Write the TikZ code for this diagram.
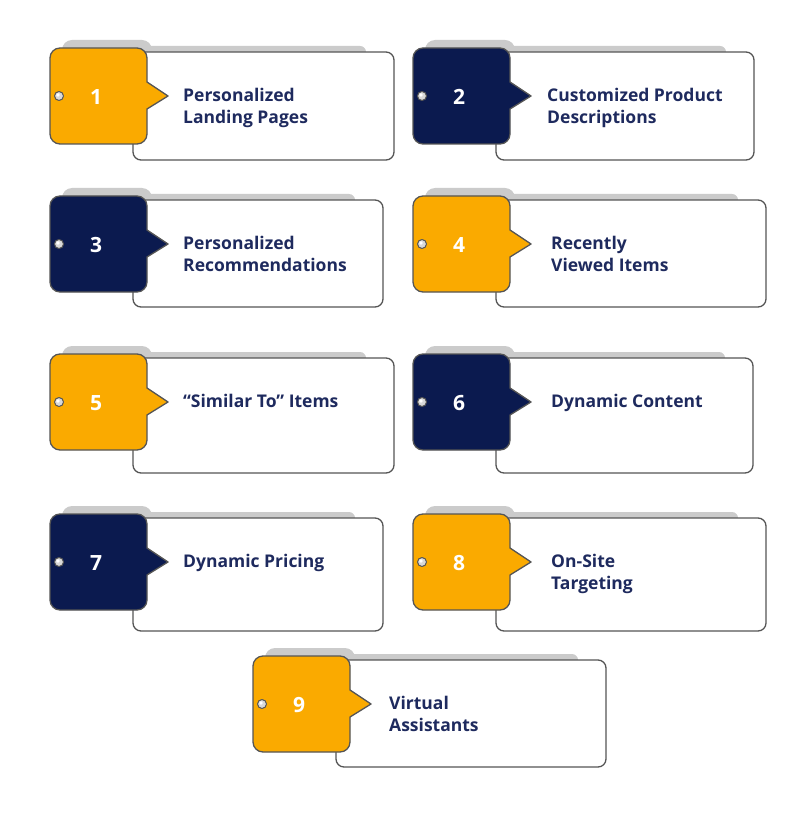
\documentclass[tikz,border=0pt]{standalone}
\usepackage{fontspec}
\setmainfont{Open Sans}
\definecolor{tagorange}{HTML}{FAAA00}
\definecolor{tagnavy}{HTML}{0B1A4F}
\definecolor{labelnavy}{HTML}{1E2A5E}
\definecolor{rimgray}{HTML}{555555}
\definecolor{shadegray}{HTML}{CBCBCB}
\begin{document}
\begin{tikzpicture}[x=1pt,y=-1pt,line join=round,
  shade/.style={fill=shadegray},
  cardbox/.style={draw=rimgray,line width=1.3pt,fill=white,rounded corners=8pt},
  tagbox/.style={draw=rimgray,line width=1.3pt},
  hole/.style={draw=rimgray,line width=1pt,fill=gray!30},
  numtext/.style={text=white,font=\fontsize{21}{24}\selectfont\bfseries,inner sep=0pt},
  cardtext/.style={text=labelnavy,font=\fontsize{17.5}{22}\selectfont\bfseries,align=left,inner sep=0pt,anchor=north west}]
  \useasboundingbox (0,0) rectangle (800,818);
  \foreach \L/\T/\W/\H/\col/\n/\dx/\txt in {
      50/48/261/108/tagorange/1/133/{Personalized\\Landing Pages},
      413/48/258/108/tagnavy/2/134/{Customized Product\\Descriptions},
      50/196/250/107/tagnavy/3/133/{Personalized\\Recommendations},
      413/196/270/107/tagorange/4/138/{Recently\\Viewed Items},
      50/354/261/115/tagorange/5/133/{“Similar To” Items},
      413/354/257/115/tagnavy/6/138/{Dynamic Content},
      50/514/250/113/tagnavy/7/133/{Dynamic Pricing},
      413/514/270/113/tagorange/8/138/{On-Site\\Targeting},
      253/656/270/107/tagorange/9/136/{Virtual\\Assistants}} {
    % grey shadow behind tag and card
    \fill[shade,rounded corners=10pt] ({\L+12},{\T-8}) rectangle ({\L+102},{\T+40});
    \fill[shade,rounded corners=6pt] ({\L+95},{\T-2}) rectangle ({\L+83+\W-28},{\T+40});
    % white card
    \draw[cardbox] ({\L+83},{\T+4}) rectangle ({\L+83+\W},{\T+4+\H});
    % tag with pointer
    \draw[tagbox,fill=\col] (\L,{\T+48}) [rounded corners=10pt] -- (\L,\T) -- ({\L+97},\T)
      -- ({\L+97},{\T+20}) [sharp corners] -- ({\L+97},{\T+34}) -- ({\L+118},{\T+48})
      -- ({\L+97},{\T+61}) -- ({\L+97},{\T+75}) [rounded corners=10pt] -- ({\L+97},{\T+96})
      -- (\L,{\T+96}) -- cycle;
    \draw[hole] ({\L+9},{\T+48}) circle (4.5pt);
    \fill[white] ({\L+8},{\T+47}) circle (1.8pt);
    \node[numtext] (num\n) at ({\L+46},{\T+49}) {\n};
    \node[cardtext] (lbl\n) at ({\L+\dx},{\T+37.5}) {\strut\txt};
  }
\end{tikzpicture}
\end{document}
